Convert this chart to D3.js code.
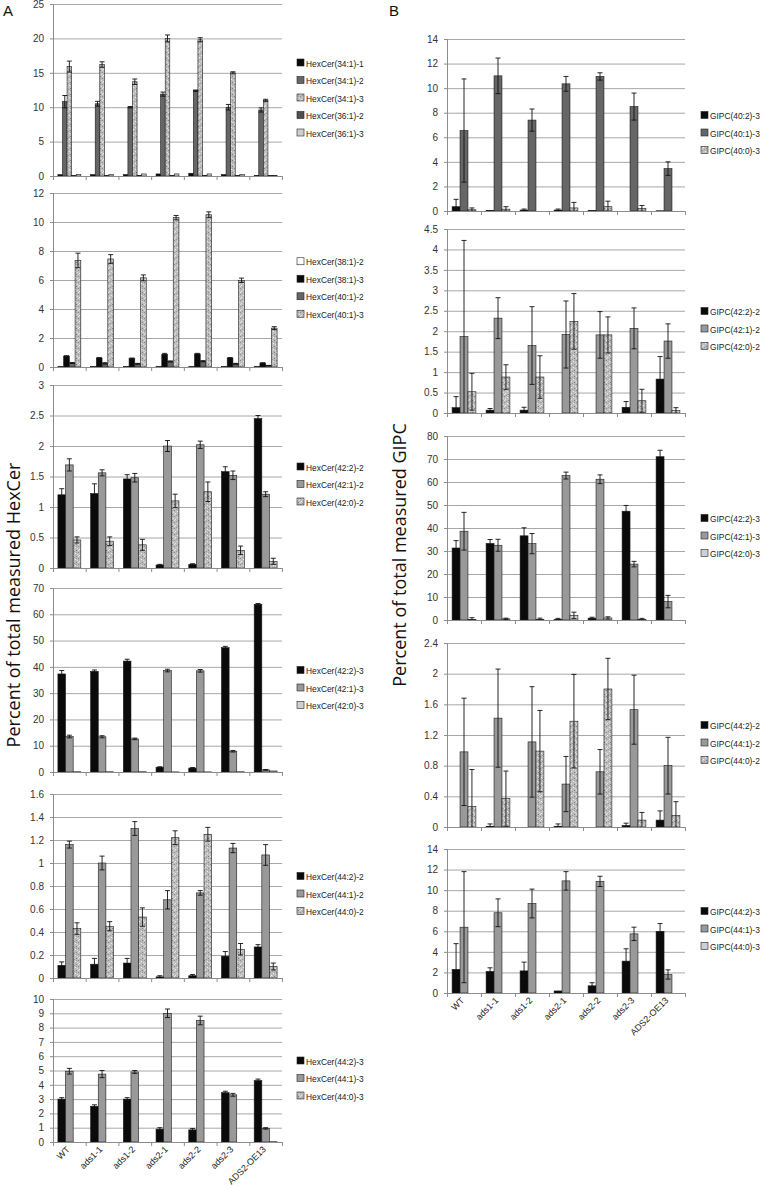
<!DOCTYPE html>
<html>
<head>
<meta charset="utf-8">
<script src="https://cdn.jsdelivr.net/npm/d3@7"></script>
<style>
body { margin: 0; background: #fff; }
svg { display: block; }
text { font-family: "Liberation Sans", Arial, sans-serif; }
</style>
</head>
<body>
<svg id="fig" width="760" height="1189"></svg>
<script>

var lines = ["WT", "ads1-1", "ads1-2", "ads2-1", "ads2-2", "ads2-3", "ADS2-OE13"];

// ---- panel A : HexCer ----
var a1Names = ["HexCer(34:1)-1", "HexCer(34:1)-2", "HexCer(34:1)-3", "HexCer(36:1)-2", "HexCer(36:1)-3"];
var a1Fills = ["black", "dark", "speck", "dark2", "light"];
var a1Vals = [
  [0.2, 0.2, 0.2, 0.3, 0.4, 0.2, 0.05],
  [10.8, 10.5, 10.0, 11.9, 12.4, 10.0, 9.6],
  [15.9, 16.2, 13.7, 20.0, 19.8, 15.0, 11.0],
  [0.05, 0.05, 0.1, 0.1, 0.1, 0.05, 0.05],
  [0.2, 0.2, 0.3, 0.3, 0.3, 0.2, 0.1]
];
var a1Errs = [
  [0, 0, 0, 0, 0, 0, 0],
  [0.9, 0.35, 0.1, 0.3, 0.1, 0.4, 0.3],
  [0.8, 0.4, 0.4, 0.5, 0.3, 0.15, 0.15],
  [0, 0, 0, 0, 0, 0, 0],
  [0, 0, 0, 0, 0, 0, 0]
];
var a1Ticks = [0, 5, 10, 15, 20, 25];

var a2Names = ["HexCer(38:1)-2", "HexCer(38:1)-3", "HexCer(40:1)-2", "HexCer(40:1)-3"];
var a2Fills = ["white", "black", "dark", "speck"];
var a2Vals = [
  [0.05, 0.05, 0.05, 0.05, 0.05, 0.05, 0.05],
  [0.75, 0.62, 0.58, 0.88, 0.9, 0.62, 0.27],
  [0.28, 0.25, 0.22, 0.38, 0.4, 0.22, 0.1],
  [7.35, 7.45, 6.15, 10.3, 10.5, 5.98, 2.68]
];
var a2Errs = [
  [0, 0, 0, 0, 0, 0, 0],
  [0.03, 0.03, 0.04, 0.06, 0.04, 0.03, 0.02],
  [0.03, 0.05, 0.03, 0.04, 0.04, 0.03, 0.01],
  [0.5, 0.3, 0.2, 0.15, 0.2, 0.15, 0.1]
];
var a2Ticks = [0, 2, 4, 6, 8, 10, 12];

var a3Names = ["HexCer(42:2)-2", "HexCer(42:1)-2", "HexCer(42:0)-2"];
var a3Fills = ["black", "mid", "speck"];
var a3Vals = [
  [1.2, 1.22, 1.46, 0.05, 0.06, 1.58, 2.45],
  [1.69, 1.56, 1.48, 2.0, 2.02, 1.52, 1.21],
  [0.46, 0.44, 0.38, 1.1, 1.25, 0.29, 0.11]
];
var a3Errs = [
  [0.1, 0.16, 0.07, 0.01, 0.01, 0.08, 0.05],
  [0.1, 0.05, 0.07, 0.09, 0.06, 0.07, 0.04],
  [0.05, 0.07, 0.09, 0.11, 0.16, 0.07, 0.05]
];
var a3Ticks = [0, 0.5, 1, 1.5, 2, 2.5, 3];

var a4Names = ["HexCer(42:2)-3", "HexCer(42:1)-3", "HexCer(42:0)-3"];
var a4Fills = ["black", "mid", "light"];
var a4Vals = [
  [37.3, 38.3, 42.2, 1.8, 1.5, 47.3, 63.8],
  [13.5, 13.4, 12.6, 38.6, 38.5, 7.9, 0.8],
  [0.1, 0.1, 0.1, 0.05, 0.05, 0.1, 0.4]
];
var a4Errs = [
  [1.3, 0.5, 0.7, 0.2, 0.2, 0.5, 0.3],
  [0.5, 0.4, 0.3, 0.5, 0.5, 0.3, 0.1],
  [0, 0, 0, 0, 0, 0, 0]
];
var a4Ticks = [0, 10, 20, 30, 40, 50, 60, 70];

var a5Names = ["HexCer(44:2)-2", "HexCer(44:1)-2", "HexCer(44:0)-2"];
var a5Fills = ["black", "mid", "speck"];
var a5Vals = [
  [0.11, 0.12, 0.13, 0.01, 0.02, 0.19, 0.27],
  [1.16, 1.0, 1.3, 0.68, 0.74, 1.13, 1.07],
  [0.43, 0.45, 0.53, 1.22, 1.25, 0.25, 0.1]
];
var a5Errs = [
  [0.03, 0.05, 0.04, 0.01, 0.01, 0.04, 0.02],
  [0.03, 0.06, 0.06, 0.08, 0.02, 0.04, 0.09],
  [0.05, 0.04, 0.08, 0.06, 0.06, 0.05, 0.03]
];
var a5Ticks = [0, 0.2, 0.4, 0.6, 0.8, 1, 1.2, 1.4, 1.6];

var a6Names = ["HexCer(44:2)-3", "HexCer(44:1)-3", "HexCer(44:0)-3"];
var a6Fills = ["black", "mid", "speck"];
var a6Vals = [
  [3.0, 2.5, 3.0, 0.9, 0.85, 3.45, 4.3],
  [4.95, 4.75, 4.9, 9.0, 8.5, 3.3, 0.95],
  [0, 0, 0, 0, 0, 0, 0.02]
];
var a6Errs = [
  [0.1, 0.1, 0.1, 0.1, 0.1, 0.1, 0.1],
  [0.2, 0.25, 0.1, 0.3, 0.3, 0.1, 0.05],
  [0, 0, 0, 0, 0, 0, 0]
];
var a6Ticks = [0, 1, 2, 3, 4, 5, 6, 7, 8, 9, 10];

// ---- panel B : GIPC ----
var b1Names = ["GIPC(40:2)-3", "GIPC(40:1)-3", "GIPC(40:0)-3"];
var b1Fills = ["black", "dark", "speck"];
var b1Vals = [
  [0.35, 0.05, 0.08, 0.08, 0.03, 0, 0.02],
  [6.55, 11.0, 7.4, 10.35, 10.95, 8.5, 3.45],
  [0.1, 0.15, 0, 0.25, 0.35, 0.2, 0]
];
var b1Errs = [
  [0.6, 0, 0.08, 0.08, 0, 0, 0],
  [4.2, 1.45, 0.9, 0.6, 0.3, 1.1, 0.55],
  [0.15, 0.2, 0, 0.45, 0.45, 0.25, 0]
];
var b1Ticks = [0, 2, 4, 6, 8, 10, 12, 14];

var b2Names = ["GIPC(42:2)-2", "GIPC(42:1)-2", "GIPC(42:0)-2"];
var b2Fills = ["black", "mid", "speck"];
var b2Vals = [
  [0.13, 0.07, 0.07, 0, 0, 0.14, 0.83],
  [1.87, 2.32, 1.65, 1.92, 1.91, 2.07, 1.76],
  [0.52, 0.88, 0.88, 2.24, 1.91, 0.3, 0.06]
];
var b2Errs = [
  [0.27, 0.04, 0.07, 0, 0, 0.14, 0.55],
  [2.35, 0.5, 0.95, 0.82, 0.57, 0.5, 0.42],
  [0.45, 0.3, 0.52, 0.68, 0.44, 0.28, 0.07]
];
var b2Ticks = [0, 0.5, 1, 1.5, 2, 2.5, 3, 3.5, 4, 4.5];

var b3Names = ["GIPC(42:2)-3", "GIPC(42:1)-3", "GIPC(42:0)-3"];
var b3Fills = ["black", "mid", "light"];
var b3Vals = [
  [31.3, 33.3, 36.6, 0.2, 0.8, 47.3, 71.0],
  [38.6, 32.5, 33.2, 62.8, 61.2, 24.3, 8.0],
  [0.3, 0.5, 0.3, 2.0, 0.9, 0.2, 0]
];
var b3Errs = [
  [3.2, 1.7, 3.5, 0.5, 0.4, 2.5, 2.8],
  [8.2, 2.6, 4.4, 1.5, 1.9, 1.2, 2.7],
  [0.7, 0.3, 0.5, 1.4, 0.5, 0.5, 0]
];
var b3Ticks = [0, 10, 20, 30, 40, 50, 60, 70, 80];

var b4Names = ["GIPC(44:2)-2", "GIPC(44:1)-2", "GIPC(44:0)-2"];
var b4Fills = ["black", "mid", "speck"];
var b4Vals = [
  [0, 0.01, 0, 0.01, 0, 0.02, 0.09],
  [0.98, 1.42, 1.11, 0.56, 0.72, 1.53, 0.8],
  [0.27, 0.37, 0.99, 1.38, 1.8, 0.09, 0.15]
];
var b4Errs = [
  [0, 0.03, 0, 0.03, 0, 0.03, 0.12],
  [0.7, 0.64, 0.72, 0.36, 0.29, 0.45, 0.37],
  [0.48, 0.36, 0.53, 0.61, 0.4, 0.1, 0.18]
];
var b4Ticks = [0, 0.4, 0.8, 1.2, 1.6, 2, 2.4];

var b5Names = ["GIPC(44:2)-3", "GIPC(44:1)-3", "GIPC(44:0)-3"];
var b5Fills = ["black", "mid", "light"];
var b5Vals = [
  [2.3, 2.1, 2.15, 0.2, 0.7, 3.1, 6.0],
  [6.4, 7.8, 8.7, 10.9, 10.85, 5.75, 1.8],
  [0, 0, 0, 0, 0, 0, 0]
];
var b5Errs = [
  [2.5, 0.35, 0.85, 0, 0.3, 1.2, 0.75],
  [5.4, 1.35, 1.4, 0.9, 0.5, 0.65, 0.45],
  [0, 0, 0, 0, 0, 0, 0]
];
var b5Ticks = [0, 2, 4, 6, 8, 10, 12, 14];


var svg = d3.select("#fig");

// speckled fill like the Excel texture
var defs = svg.append("defs");
var pat = defs.append("pattern")
  .attr("id", "speck")
  .attr("width", 6).attr("height", 6)
  .attr("patternUnits", "userSpaceOnUse");
pat.append("rect").attr("width", 6).attr("height", 6).attr("fill", "#bdbdbd");
[[0,0,"#8a8a8a"],[3,1,"#ececec"],[1,3,"#ececec"],[4,4,"#7c7c7c"],[5,2,"#dcdcdc"],[2,5,"#9a9a9a"],[0,4,"#e4e4e4"],[4,0,"#a0a0a0"]]
  .forEach(function(p) {
    pat.append("rect").attr("x", p[0]).attr("y", p[1]).attr("width", 1).attr("height", 1).attr("fill", p[2]);
  });

var fillMap = {
  black: "#0a0a0a",
  dark: "#666666",
  dark2: "#505050",
  mid: "#999999",
  light: "#cfcfcf",
  white: "#ffffff",
  speck: "url(#speck)"
};

function drawChart(c) {
  var g = svg.append("g");
  var x0 = d3.scaleBand().domain(lines).range([c.left, c.right]);
  var step = x0.step();
  var pad = step * 0.15;
  var x1 = d3.scaleBand().domain(d3.range(c.names.length)).range([pad, step - pad]);
  var y = d3.scaleLinear().domain([0, d3.max(c.ticks)]).range([c.zero, c.top]);

  // grid
  g.append("g")
    .attr("transform", "translate(" + c.left + ",0)")
    .call(d3.axisLeft(y).tickValues(c.ticks.slice(1)).tickSize(-(c.right - c.left)).tickFormat(""))
    .call(function(s) {
      s.select(".domain").remove();
      s.selectAll("line").attr("stroke", "#a8a8a8").attr("stroke-width", 1);
    });

  // y axis
  g.append("g")
    .attr("transform", "translate(" + c.left + ",0)")
    .call(d3.axisLeft(y).tickValues(c.ticks).tickSize(3).tickPadding(6).tickFormat(function(d) { return String(d); }))
    .call(function(s) {
      s.select(".domain").attr("stroke", "#8c8c8c");
      s.selectAll("line").attr("stroke", "#8c8c8c");
      s.selectAll("text").attr("fill", "#333").style("font-size", "10px");
    });

  // bars
  c.names.forEach(function(name, si) {
    g.append("g").selectAll("rect")
      .data(c.vals[si])
      .enter().append("rect")
      .attr("x", function(d, i) { return x0(lines[i]) + x1(si); })
      .attr("y", function(d) { return y(d); })
      .attr("width", x1.bandwidth())
      .attr("height", function(d) { return c.zero - y(d); })
      .attr("fill", fillMap[c.fills[si]])
      .attr("stroke", "#1a1a1a")
      .attr("stroke-width", 0.6);
  });

  // error bars
  c.names.forEach(function(name, si) {
    c.errs[si].forEach(function(e, i) {
      if (!e) return;
      var v = c.vals[si][i];
      var cx = x0(lines[i]) + x1(si) + x1.bandwidth() / 2;
      var lo = y(Math.max(0, v - e)), hi = y(v + e);
      var eg = g.append("g").attr("stroke", "#111").attr("stroke-width", 0.9);
      eg.append("line").attr("x1", cx).attr("x2", cx).attr("y1", lo).attr("y2", hi);
      eg.append("line").attr("x1", cx - 2.5).attr("x2", cx + 2.5).attr("y1", hi).attr("y2", hi);
      if (v - e > 0) eg.append("line").attr("x1", cx - 2.5).attr("x2", cx + 2.5).attr("y1", lo).attr("y2", lo);
    });
  });

  // x axis with category separators
  var xs = d3.scaleLinear().domain([0, lines.length]).range([c.left, c.right]);
  g.append("g")
    .attr("transform", "translate(0," + c.zero + ")")
    .call(d3.axisBottom(xs).tickValues(d3.range(lines.length + 1)).tickSize(4).tickFormat(""))
    .call(function(s) {
      s.select(".domain").attr("stroke", "#8c8c8c");
      s.selectAll("line").attr("stroke", "#8c8c8c");
    });

  if (c.labels) {
    g.append("g").selectAll("text")
      .data(lines)
      .enter().append("text")
      .attr("transform", function(d) {
        return "translate(" + (x0(d) + step / 2 + 1) + "," + (c.zero + 8) + ") rotate(-45)";
      })
      .attr("text-anchor", "end")
      .attr("fill", "#222")
      .style("font-size", "9px")
      .text(function(d) { return d; });
  }

  // legend
  var mid = (c.top + c.zero) / 2 + 8;
  var n = c.names.length;
  var lg = g.append("g");
  c.names.forEach(function(name, si) {
    var ly = mid + (si - (n - 1) / 2) * 17.5;
    lg.append("rect")
      .attr("x", c.legendX).attr("y", ly - 4)
      .attr("width", 7).attr("height", 7)
      .attr("fill", fillMap[c.fills[si]])
      .attr("stroke", "#222").attr("stroke-width", 0.6);
    lg.append("text")
      .attr("x", c.legendX + 9).attr("y", ly + 3.5)
      .attr("fill", "#222")
      .style("font-size", "8.4px")
      .text(name);
  });
}

var aL = 53, aR = 282, aLeg = 297;
var bL = 447, bR = 685, bLeg = 701;

drawChart({left: aL, right: aR, top: 4, zero: 176, ticks: a1Ticks, names: a1Names, fills: a1Fills, vals: a1Vals, errs: a1Errs, legendX: aLeg});
drawChart({left: aL, right: aR, top: 193, zero: 367, ticks: a2Ticks, names: a2Names, fills: a2Fills, vals: a2Vals, errs: a2Errs, legendX: aLeg});
drawChart({left: aL, right: aR, top: 385, zero: 568, ticks: a3Ticks, names: a3Names, fills: a3Fills, vals: a3Vals, errs: a3Errs, legendX: aLeg});
drawChart({left: aL, right: aR, top: 588, zero: 772, ticks: a4Ticks, names: a4Names, fills: a4Fills, vals: a4Vals, errs: a4Errs, legendX: aLeg});
drawChart({left: aL, right: aR, top: 794, zero: 978, ticks: a5Ticks, names: a5Names, fills: a5Fills, vals: a5Vals, errs: a5Errs, legendX: aLeg});
drawChart({left: aL, right: aR, top: 999, zero: 1142, ticks: a6Ticks, names: a6Names, fills: a6Fills, vals: a6Vals, errs: a6Errs, legendX: aLeg, labels: true});

drawChart({left: bL, right: bR, top: 39, zero: 211, ticks: b1Ticks, names: b1Names, fills: b1Fills, vals: b1Vals, errs: b1Errs, legendX: bLeg});
drawChart({left: bL, right: bR, top: 229, zero: 413, ticks: b2Ticks, names: b2Names, fills: b2Fills, vals: b2Vals, errs: b2Errs, legendX: bLeg});
drawChart({left: bL, right: bR, top: 436, zero: 620, ticks: b3Ticks, names: b3Names, fills: b3Fills, vals: b3Vals, errs: b3Errs, legendX: bLeg});
drawChart({left: bL, right: bR, top: 643, zero: 827, ticks: b4Ticks, names: b4Names, fills: b4Fills, vals: b4Vals, errs: b4Errs, legendX: bLeg});
drawChart({left: bL, right: bR, top: 849, zero: 993, ticks: b5Ticks, names: b5Names, fills: b5Fills, vals: b5Vals, errs: b5Errs, legendX: bLeg, labels: true});

// panel letters and axis titles
svg.append("text").attr("x", 3).attr("y", 16).style("font-size", "15px").attr("fill", "#111").text("A");
svg.append("text").attr("x", 389).attr("y", 16).style("font-size", "15px").attr("fill", "#111").text("B");

svg.append("text")
  .attr("transform", "translate(20,605) rotate(-90)")
  .attr("text-anchor", "middle")
  .style("font-family", "'Open Sans', sans-serif")
  .style("font-size", "18px")
  .attr("fill", "#111")
  .text("Percent of total measured HexCer");

svg.append("text")
  .attr("transform", "translate(406,555) rotate(-90)")
  .attr("text-anchor", "middle")
  .style("font-family", "'Open Sans', sans-serif")
  .style("font-size", "18px")
  .attr("fill", "#111")
  .text("Percent of total measured GIPC");

</script>
</body>
</html>
